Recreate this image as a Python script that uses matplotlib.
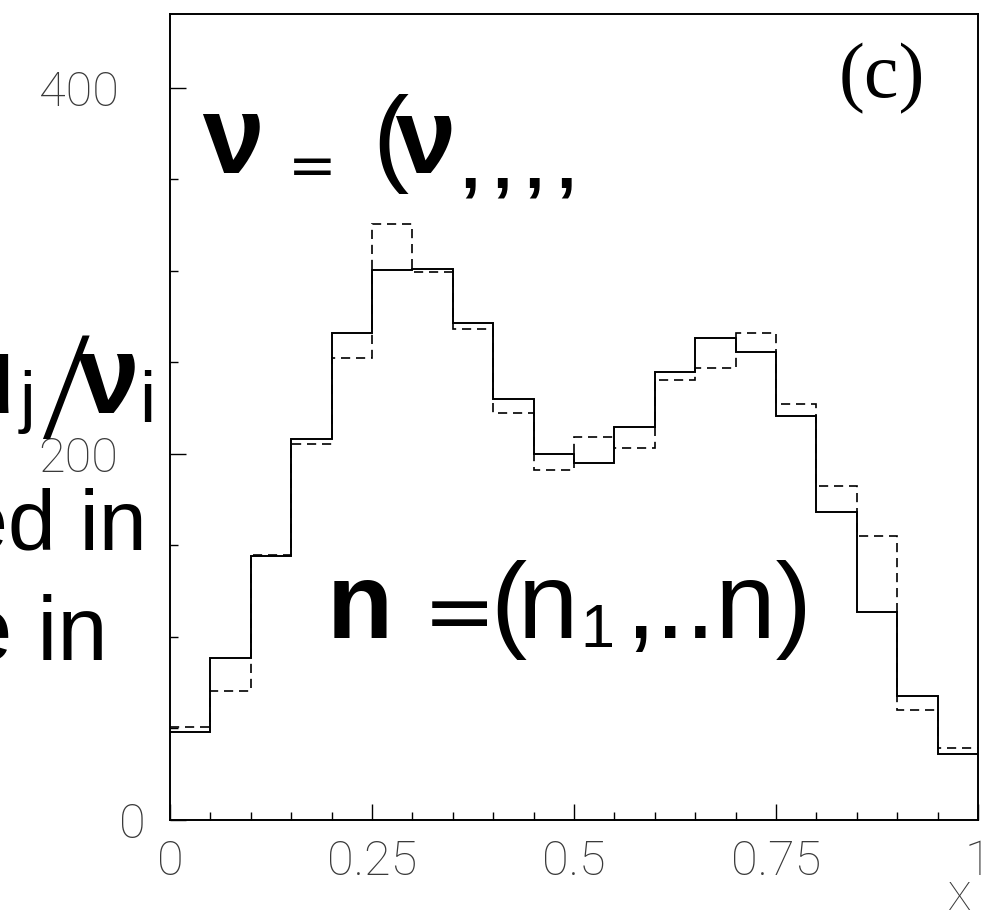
import numpy as np
import matplotlib
matplotlib.use("Agg")
import matplotlib.pyplot as plt
from matplotlib import font_manager
from matplotlib.font_manager import FontProperties
from matplotlib.transforms import IdentityTransform, ScaledTranslation
from matplotlib.ticker import MultipleLocator

# ---- histogram contents: 20 equal-width bins on [0, 1] ----
bin_edges = [0.00, 0.05, 0.10, 0.15, 0.20, 0.25, 0.30, 0.35, 0.40, 0.45, 0.50,
             0.55, 0.60, 0.65, 0.70, 0.75, 0.80, 0.85, 0.90, 0.95, 1.00]
measured = [47.9, 88.7, 144.3, 208.2, 266.3, 300.5, 300.8, 271.3, 230.0, 199.8,
            194.9, 214.8, 244.6, 263.4, 255.9, 220.8, 168.5, 113.8, 68.0, 35.9]
expected = [50.8, 70.3, 144.8, 205.3, 252.3, 325.5, 299.6, 268.3, 222.2, 191.5,
            209.3, 203.3, 240.4, 247.1, 266.3, 227.3, 182.3, 155.4, 60.3, 39.2]

x_ticks = [0, 0.25, 0.5, 0.75, 1]
x_tick_labels = ["0", "0.25", "0.5", "0.75", "1"]
y_ticks = [0, 200, 400]
y_tick_labels = ["0", "200", "400"]

W, H = 982, 914
PREFS = ["Roboto", "Lato", "Open Sans", "Inter", "Noto Sans", "DejaVu Sans"]


def _weight(f):
    w = f.weight
    if isinstance(w, str):
        w = font_manager.weight_dict.get(w, 400)
    return w


def face_near(target, lo, hi):
    """Upright face whose weight lies in [lo, hi], closest to target."""
    for fam in PREFS:
        cands = [f for f in font_manager.fontManager.ttflist
                 if f.name == fam and f.style == "normal" and lo <= _weight(f) <= hi]
        if cands:
            best = min(cands, key=lambda f: abs(_weight(f) - target))
            return FontProperties(fname=best.fname)
    return None


thin = face_near(100, 0, 300) or FontProperties(family="DejaVu Sans")
light = face_near(300, 250, 350) or FontProperties(family="Liberation Sans")

fig = plt.figure(figsize=(W / 100, H / 100), dpi=100)
fig.patch.set_facecolor("white")
ax = fig.add_axes([170 / W, (H - 820) / H, 808 / W, 806 / H])

ax.stairs(measured, bin_edges, baseline=None, color="black", linewidth=1.4,
          linestyle="-", zorder=3)
ax.stairs(expected, bin_edges, baseline=None, color="black", linewidth=1.2,
          linestyle=(0, (5.5, 3.5)), zorder=2)

ax.set_xlim(0, 1)
ax.set_ylim(0, 440.4)

for side in ["left", "right", "top", "bottom"]:
    ax.spines[side].set_linewidth(1.4)
    ax.spines[side].set_color("black")

ax.set_xticks(x_ticks, x_tick_labels)
ax.set_yticks(y_ticks, y_tick_labels)
ax.xaxis.set_minor_locator(MultipleLocator(0.05))
ax.yaxis.set_minor_locator(MultipleLocator(50))
ax.tick_params(which="both", direction="in", top=False, right=False,
               width=1.0, color="black")
ax.tick_params(which="major", length=11.5)
ax.tick_params(which="minor", length=5.8)
ax.tick_params(axis="x", which="major", pad=13)
ax.tick_params(axis="y", which="major", pad=37)

for lab in ax.get_xticklabels() + ax.get_yticklabels():
    lab.set_fontproperties(thin)
    lab.set_fontsize(35)
    lab.set_color("#3a3a3a")

# the zero on the value axis sits closer to the frame
zero_lab = ax.get_yticklabels()[0]
zero_lab.set_transform(zero_lab.get_transform()
                       + ScaledTranslation(0.27, 0, fig.dpi_scale_trans))

ax.set_xlabel("X", loc="right", fontproperties=thin, fontsize=28, color="#3a3a3a")
ax.xaxis.set_label_coords(0.992, -0.075)


# ---- text overlay, placed in output pixels (origin top-left) ----
def put(s, x, y, size, family="Liberation Sans", weight="normal", ha="left",
        va="baseline", fp=None):
    kw = dict(transform=IdentityTransform(), ha=ha, va=va, color="black", zorder=10)
    if fp is not None:
        fig.text(x, H - y, s, fontproperties=fp.copy(), fontsize=size, **kw)
    else:
        fig.text(x, H - y, s, fontsize=size, family=family, weight=weight, **kw)


# panel tag
put("(c)", 925, 97, 56, family="Liberation Serif", ha="right")

# first line: bold nu = (nu , , , ,
put("ν", 202, 173, 80, weight="bold")
put("=", 288, 185, 42, family="DejaVu Sans")
put("(", 372, 172, 78)
put("ν", 395, 173, 78, weight="bold")
for cx in [460, 492, 524, 556]:
    put(",", cx, 188, 50, weight="bold")

# left margin fragments
put("u", 15, 413, 80, weight="bold", ha="right")
put("j", 20, 420, 50)
put("/", 40, 431, 96, fp=light)
put("ν", 77, 413, 80, weight="bold")
put("i", 139, 422, 52)
put("ed in", 147, 550, 62, ha="right")
put("e in", 108, 660, 65, ha="right")

# n = (n1, .. n)
put("n", 327, 638, 78, weight="bold")
put("=", 423, 641, 63, family="DejaVu Sans")
put("(", 490, 638, 78)
put("n", 518, 638, 78)
put("1", 580, 647, 44)
put(",..n)", 625, 638, 78)

fig.savefig("out.png", dpi=100, facecolor="white")
